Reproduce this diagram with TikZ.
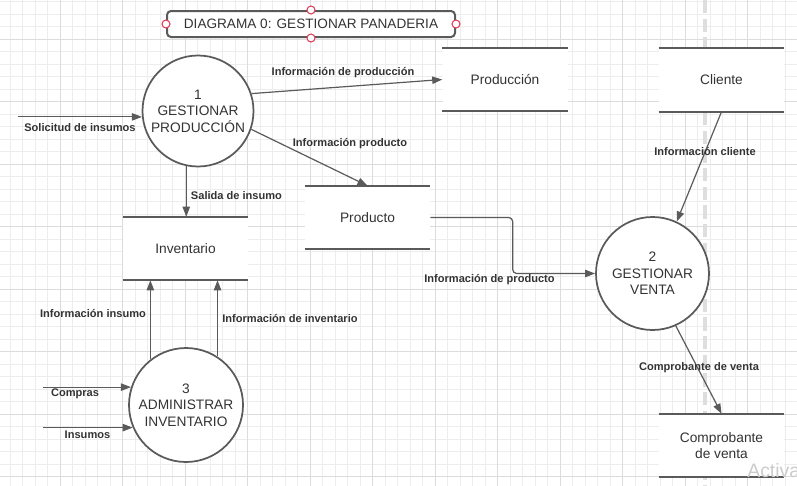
\documentclass[tikz,border=0pt]{standalone}
\usepackage{fontspec}
\setmainfont{Liberation Sans}
\usetikzlibrary{arrows.meta,calc}
\definecolor{gridminor}{HTML}{EDEDED}
\definecolor{gridmajor}{HTML}{DCDCDC}
\definecolor{dashcol}{HTML}{DEDEDE}
\definecolor{ink}{HTML}{5A5A5A}
\definecolor{txt}{HTML}{333333}
\definecolor{handle}{HTML}{E0405A}
\begin{document}
\begin{tikzpicture}[x=0.75pt,y=-0.75pt,
  proc/.style={circle,draw=ink,line width=1.3pt,fill=white,text=txt,font=\fontsize{10.3}{12.4}\selectfont,align=center,inner sep=0pt},
  store/.style={fill=white,minimum width=93.75pt,minimum height=47.25pt,text=txt,font=\fontsize{10.3}{12.4}\selectfont,align=center,inner sep=0pt},
  storeline/.style={draw=ink,line width=1.4pt},
  flow/.style={draw=ink,line width=0.9pt,-{Triangle[length=7.5pt,width=5.5pt]}},
  lbl/.style={text=txt,font=\fontsize{8.3}{10}\selectfont\bfseries,inner sep=0pt},
]
\useasboundingbox (0,0) rectangle (797,486);
\fill[white] (0,0) rectangle (797,486);
% grid
\foreach \i in {0,...,63} \draw[gridminor,line width=0.75pt] ({10+12.5*\i},0) -- ({10+12.5*\i},486);
\foreach \j in {0,...,38} \draw[gridminor,line width=0.75pt] (0,{1.8+12.5*\j}) -- (797,{1.8+12.5*\j});
\foreach \i in {0,...,11} \draw[gridmajor,line width=0.75pt] ({60+62.5*\i},0) -- ({60+62.5*\i},486);
\foreach \j in {0,...,7} \draw[gridmajor,line width=0.75pt] (0,{39.3+62.5*\j}) -- (797,{39.3+62.5*\j});
% dashed guide
\draw[dashcol,line width=3pt,dash pattern=on 10pt off 4pt] (705,0) -- (705,486);

% title
\node[draw=ink,line width=1.5pt,rounded corners=3pt,fill=white,minimum width=216pt,minimum height=19.5pt,
      font=\fontsize{10.2}{12}\selectfont,text=txt,inner sep=0pt] (title) at (311,24) {DIAGRAMA 0: GESTIONAR PANADERIA};
\foreach \a in {north,south,east,west} \draw[handle,fill=white,line width=0.8pt] (title.\a) circle (3pt);

% processes
\node[proc,minimum size=83.25pt] (p1) at (198,111) {1\\GESTIONAR\\PRODUCCIÓN};
\node[proc,minimum size=84.75pt] (p2) at (652.5,273.5) {2\\GESTIONAR\\VENTA};
\node[proc,minimum size=85.5pt] (p3) at (186,405) {3\\ADMINISTRAR\\INVENTARIO};

% stores
\node[store] (prodn) at (505,79.5) {Producción};
\node[store] (cli) at (721.5,80) {Cliente};
\node[store] (prodt) at (367.5,217.5) {Producto};
\node[store] (inv) at (185.5,248.5) {Inventario};
\node[store] (comp) at (721.5,445.5) {Comprobante\\de venta};
\foreach \s in {prodn,cli,prodt,inv,comp} {
  \draw[storeline] (\s.north west) -- (\s.north east);
  \draw[storeline] (\s.south west) -- (\s.south east);
}

% free ends
\coordinate (sin) at (18,0);
\coordinate (cin) at (43,0);

% flows
\draw[flow] (p1.186 -| sin) -- (p1.186);
\draw[flow] (p1.18) -- (prodn.west);
\draw[flow] (p1.-19) -- (prodt.north);
\draw[flow] (p1.-102) -- (p1.-102 |- inv.north);
\draw[flow,rounded corners=3pt] (prodt.east) -| ($(prodt.east)!.5!(p2.west)$) |- (p2.west);
\draw[flow] (cli.south) -- (p2.65);
\draw[flow] (p2.-66) -- (comp.north);
\draw[flow] (p3.128) -- (p3.128 |- inv.south);
\draw[flow] (p3.57) -- (p3.57 |- inv.south);
\draw[flow] (cin |- p3.162) -- (p3.162);
\draw[flow] (cin |- p3.-157) -- (p3.-157);

% labels
\node[lbl] (l1) at (80,128) {Solicitud de insumos};
\node[lbl] (l2) at (343,72.5) {Información de producción};
\node[lbl] (l3) at (350,144) {Información producto};
\node[lbl] (l4) at (236.5,196) {Salida de insumo};
\node[lbl] (l5) at (489.5,280) {Información de producto};
\node[lbl] (l6) at (705,151) {Información cliente};
\node[lbl] (l7) at (699,368) {Comprobante de venta};
\node[lbl] (l8) at (93,313) {Información insumo};
\node[lbl] (l9) at (290,318) {Información de inventario};
\node[lbl] (l10) at (75,394) {Compras};
\node[lbl] (l11) at (87.5,435) {Insumos};

% watermark
\node[anchor=base west,text=gray!40,font=\fontsize{14.6}{16}\selectfont,inner sep=0pt] (wm) at (747,477) {Activa};
\end{tikzpicture}
\end{document}
